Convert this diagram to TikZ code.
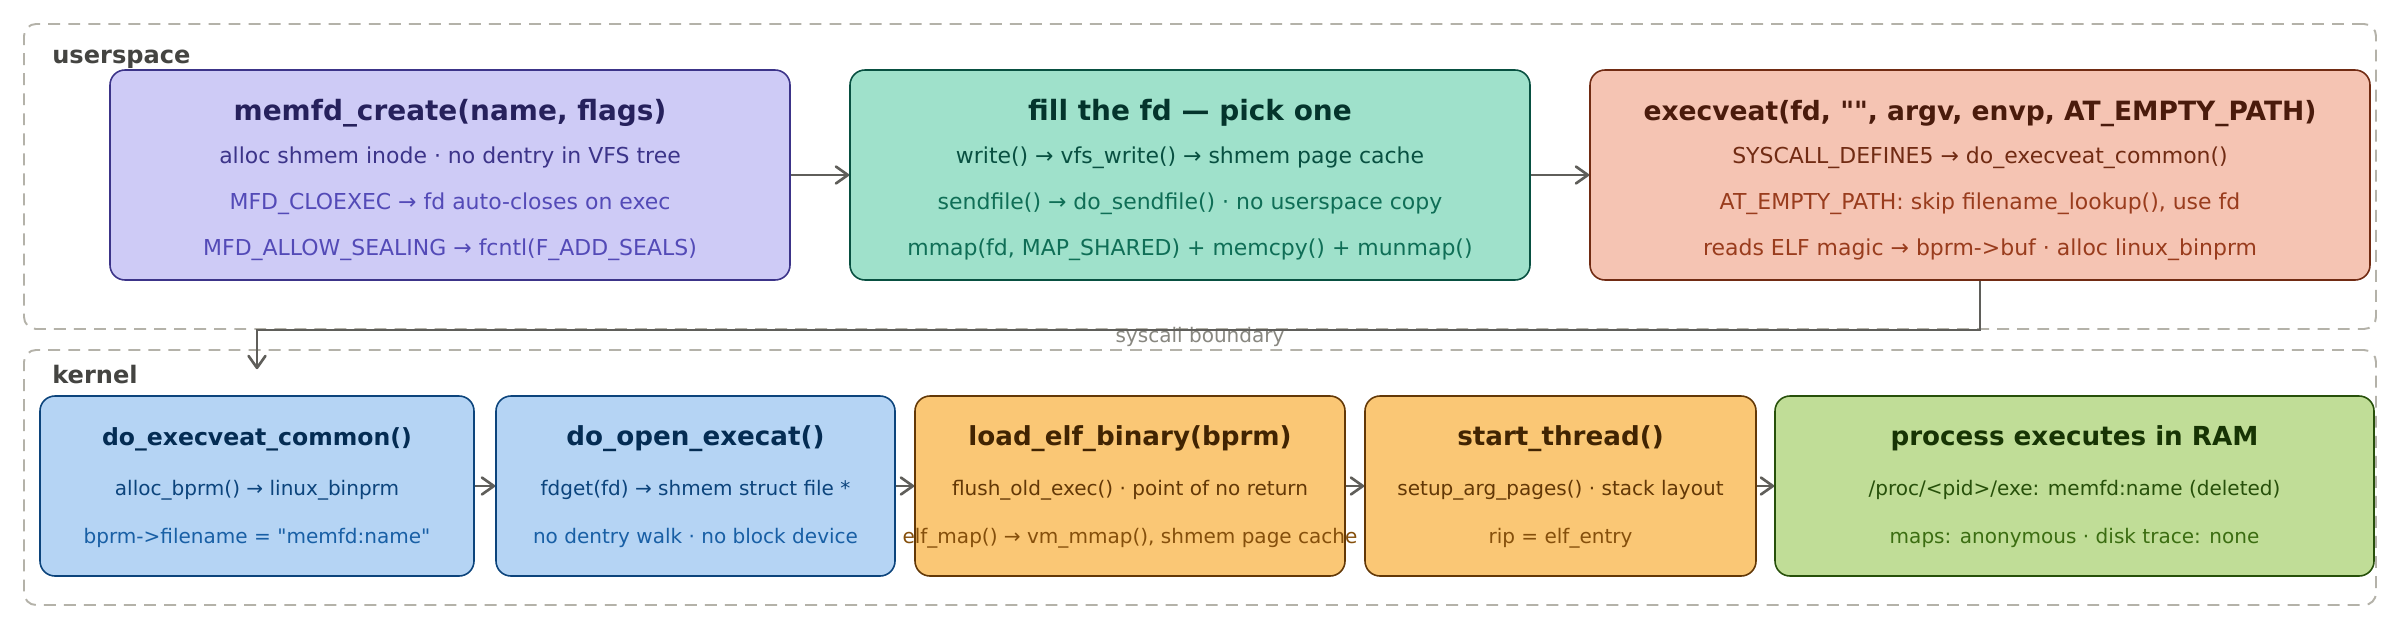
\documentclass[tikz,border=0pt]{standalone}
\usepackage{fontspec}
\setmainfont{DejaVu Sans}[Ligatures=TeXOff]
\usepackage{tikz}
\usetikzlibrary{arrows.meta}
\definecolor{lavfill}{HTML}{CECBF6}
\definecolor{lavline}{HTML}{3C3489}
\definecolor{lavdark}{HTML}{26215C}
\definecolor{lavsoft}{HTML}{534AB7}
\definecolor{tealfill}{HTML}{9FE1CB}
\definecolor{tealline}{HTML}{085041}
\definecolor{tealdark}{HTML}{04342C}
\definecolor{tealsoft}{HTML}{0F6E56}
\definecolor{coralfill}{HTML}{F5C4B3}
\definecolor{coralline}{HTML}{712B13}
\definecolor{coraldark}{HTML}{4A1B0C}
\definecolor{coralsoft}{HTML}{993C1D}
\definecolor{bluefill}{HTML}{B5D4F4}
\definecolor{blueline}{HTML}{0C447C}
\definecolor{bluedark}{HTML}{042C53}
\definecolor{bluesoft}{HTML}{185FA5}
\definecolor{amberfill}{HTML}{FAC775}
\definecolor{amberline}{HTML}{633806}
\definecolor{amberdark}{HTML}{412402}
\definecolor{ambersoft}{HTML}{854F0B}
\definecolor{greenfill}{HTML}{C0DD97}
\definecolor{greenline}{HTML}{27500A}
\definecolor{greendark}{HTML}{173404}
\definecolor{greensoft}{HTML}{3B6D11}
\definecolor{zonegray}{HTML}{B4B2A9}
\definecolor{zoneink}{HTML}{444441}
\definecolor{wiregray}{HTML}{5F5E5A}
\definecolor{notegray}{HTML}{888780}

\begin{document}
\begin{tikzpicture}[
        every node/.style={inner sep=0pt},
        zone/.style={draw=zonegray, line width=1.1pt,
          dash pattern=on 6.8pt off 4.6pt, rounded corners=0.24cm},
        zonelabel/.style={anchor=base west, text=zoneink,
          font=\fontsize{13.7}{16}\selectfont\bfseries},
        stage/.style={draw, line width=0.9pt, rounded corners=0.3cm,
          minimum height=4.2cm},
        kstage/.style={stage, minimum height=3.6cm},
        head/.style={anchor=base, font=\fontsize{15.9}{19}\selectfont\bfseries},
        body/.style={anchor=base, font=\fontsize{12.5}{15}\selectfont},
        khead/.style={anchor=base, font=\fontsize{14.9}{18}\selectfont\bfseries},
        kbody/.style={anchor=base, font=\fontsize{11.4}{14}\selectfont},
        wire/.style={draw=wiregray, line width=1.5pt,
          -{Straight Barb[length=6.8pt, width=9.6pt, round]}}]
      % Canvas: 1cm = 50px of the 2400x630 frame
      \fill[white] (0,0) rectangle (48,12.6);
      \useasboundingbox (0,0) rectangle (48,12.6);

      % Dashed zones
      \node[zone, minimum width=47.04cm, minimum height=6.1cm] (user) at (24,9.07) {};
      \node[zone, minimum width=47.04cm, minimum height=5.1cm] (kern) at (24,3.05) {};
      \node[zonelabel] (userlbl) at (1.04,11.34) {userspace};
      \node[zonelabel] (kernlbl) at (1.04,4.94) {kernel};

      % Userspace stages
      \node[stage, fill=lavfill, draw=lavline, minimum width=13.6cm] (memfd) at (9.0,9.1) {};
      \node[stage, fill=tealfill, draw=tealline, minimum width=13.6cm] (fillfd) at (23.8,9.1) {};
      \node[stage, fill=coralfill, draw=coralline, minimum width=15.6cm] (execveat) at (39.6,9.1) {};

      \node[head, text=lavdark] (memfd-h) at ([yshift=1.1cm]memfd.center) {memfd\_create(name, flags)};
      \node[body, text=lavline] (memfd-a) at ([yshift=0.24cm]memfd.center) {alloc shmem inode · no dentry in VFS tree};
      \node[body, text=lavsoft] (memfd-b) at ([yshift=-0.68cm]memfd.center) {MFD\_CLOEXEC → fd auto-closes on exec};
      \node[body, text=lavsoft] (memfd-c) at ([yshift=-1.6cm]memfd.center) {MFD\_ALLOW\_SEALING → fcntl(F\_ADD\_SEALS)};

      \node[head, text=tealdark] (fillfd-h) at ([yshift=1.1cm]fillfd.center) {fill the fd — pick one};
      \node[body, text=tealline] (fillfd-a) at ([yshift=0.24cm]fillfd.center) {write() → vfs\_write() → shmem page cache};
      \node[body, text=tealsoft] (fillfd-b) at ([yshift=-0.68cm]fillfd.center) {sendfile() → do\_sendfile() · no userspace copy};
      \node[body, text=tealsoft] (fillfd-c) at ([yshift=-1.6cm]fillfd.center) {mmap(fd, MAP\_SHARED) + memcpy() + munmap()};

      \node[head, text=coraldark, font=\fontsize{15.1}{18}\selectfont\bfseries] (execveat-h)
        at ([yshift=1.1cm]execveat.center) {execveat(fd, "", argv, envp, AT\_EMPTY\_PATH)};
      \node[body, text=coralline] (execveat-a) at ([yshift=0.24cm]execveat.center) {SYSCALL\_DEFINE5 → do\_execveat\_common()};
      \node[body, text=coralsoft] (execveat-b) at ([yshift=-0.68cm]execveat.center) {AT\_EMPTY\_PATH: skip filename\_lookup(), use fd};
      \node[body, text=coralsoft] (execveat-c) at ([yshift=-1.6cm]execveat.center) {reads ELF magic → bprm->buf · alloc linux\_binprm};

      % Kernel stages
      \node[kstage, fill=bluefill, draw=blueline, minimum width=8.68cm] (doexec) at (5.14,2.88) {};
      \node[kstage, fill=bluefill, draw=blueline, minimum width=7.98cm] (openexec) at (13.91,2.88) {};
      \node[kstage, fill=amberfill, draw=amberline, minimum width=8.6cm] (loadelf) at (22.6,2.88) {};
      \node[kstage, fill=amberfill, draw=amberline, minimum width=7.82cm] (startthr) at (31.21,2.88) {};
      \node[kstage, fill=greenfill, draw=greenline, minimum width=11.98cm] (running) at (41.49,2.88) {};

      \node[khead, text=bluedark, font=\fontsize{13.4}{16}\selectfont\bfseries] (doexec-h)
        at ([yshift=0.82cm]doexec.center) {do\_execveat\_common()};
      \node[kbody, text=blueline] (doexec-a) at ([yshift=-0.18cm]doexec.center) {alloc\_bprm() → linux\_binprm};
      \node[kbody, text=bluesoft] (doexec-b) at ([yshift=-1.14cm]doexec.center) {bprm->filename = "memfd:name"};

      \node[khead, text=bluedark] (openexec-h) at ([yshift=0.82cm]openexec.center) {do\_open\_execat()};
      \node[kbody, text=blueline] (openexec-a) at ([yshift=-0.18cm]openexec.center) {fdget(fd) → shmem struct file *};
      \node[kbody, text=bluesoft] (openexec-b) at ([yshift=-1.14cm]openexec.center) {no dentry walk · no block device};

      \node[khead, text=amberdark] (loadelf-h) at ([yshift=0.82cm]loadelf.center) {load\_elf\_binary(bprm)};
      \node[kbody, text=amberline] (loadelf-a) at ([yshift=-0.18cm]loadelf.center) {flush\_old\_exec() · point of no return};
      \node[kbody, text=ambersoft] (loadelf-b) at ([yshift=-1.14cm]loadelf.center) {elf\_map() → vm\_mmap(), shmem page cache};

      \node[khead, text=amberdark] (startthr-h) at ([yshift=0.82cm]startthr.center) {start\_thread()};
      \node[kbody, text=amberline] (startthr-a) at ([yshift=-0.18cm]startthr.center) {setup\_arg\_pages() · stack layout};
      \node[kbody, text=ambersoft] (startthr-b) at ([yshift=-1.14cm]startthr.center) {rip = elf\_entry};

      \node[khead, text=greendark] (running-h) at ([yshift=0.82cm]running.center) {process executes in RAM};
      \node[kbody, text=greenline] (running-a) at ([yshift=-0.18cm]running.center) {/proc/<pid>/exe: memfd:name (deleted)};
      \node[kbody, text=greensoft] (running-b) at ([yshift=-1.14cm]running.center) {maps: anonymous · disk trace: none};

      % Flow arrows
      \draw[wire] (memfd) -- (fillfd);
      \draw[wire] (fillfd) -- (execveat);
      \foreach \from/\to in {doexec/openexec, openexec/loadelf, loadelf/startthr, startthr/running}
        \draw[wire] (\from) -- (\to);

      % Syscall crossing
      \node[anchor=base, text=notegray, font=\fontsize{11.4}{13}\selectfont] (sysnote) at (24,5.76) {syscall boundary};
      \coordinate (drop) at ([yshift=0.52cm]doexec.north);
      \draw[wire] (execveat.south) |- (user.south -| drop) -- (drop);

    \end{tikzpicture}
\end{document}
